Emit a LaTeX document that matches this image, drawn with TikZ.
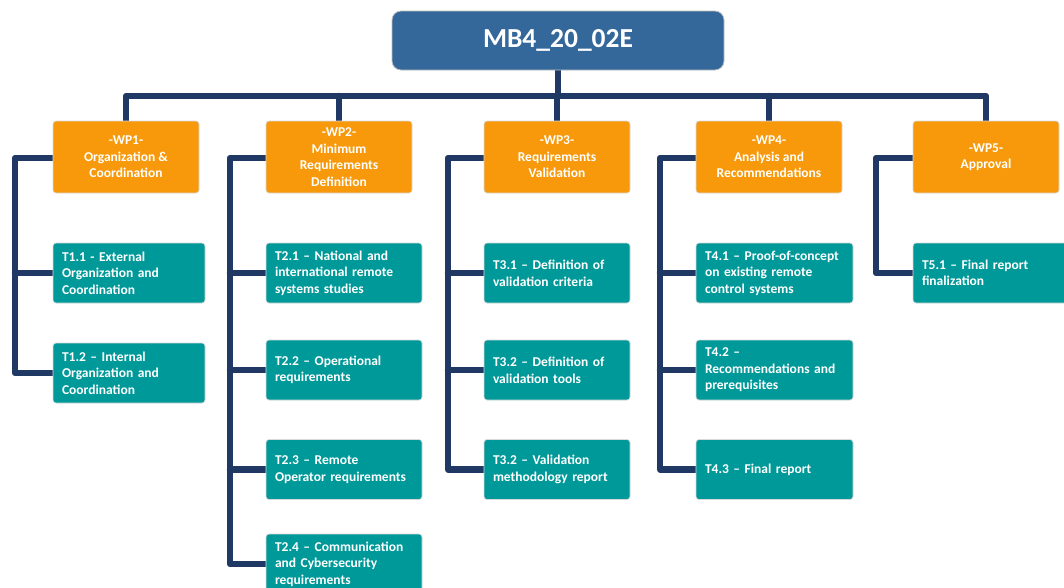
\documentclass[tikz,border=0pt]{standalone}
\usepackage{fontspec}
\setmainfont{Carlito}
\usetikzlibrary{backgrounds}
\definecolor{rootblue}{RGB}{52,103,154}
\definecolor{wporange}{RGB}{247,153,10}
\definecolor{taskteal}{RGB}{0,153,153}
\definecolor{navy}{RGB}{31,56,100}
\begin{document}
\begin{tikzpicture}[x=1pt,y=-1pt,
  rootbox/.style={fill=rootblue,draw=black!25,line width=0.8pt,rounded corners=9pt,
    minimum width=332pt,minimum height=59pt,text=white,
    font=\bfseries\fontsize{27.5}{32}\selectfont,inner sep=0pt},
  wpbox/.style={fill=wporange,draw=black!15,line width=0.7pt,rounded corners=3pt,
    minimum width=146pt,minimum height=72pt,text=white,align=center,
    font=\bfseries\fontsize{13.5}{16.6}\selectfont,inner sep=0pt},
  taskbox/.style={fill=taskteal,draw=black!15,line width=0.7pt,rounded corners=3pt,
    minimum height=60pt,text=white,align=left,inner xsep=9pt,inner ysep=0pt,
    font=\bfseries\fontsize{13.5}{16.6}\selectfont},
  tw/.style={minimum width=#1pt,text width=#1pt-18pt},
  conn/.style={draw=navy,line width=6.5pt,line join=round,line cap=round}]
\useasboundingbox (0,0) rectangle (1064,587);

\coordinate (bar) at (558,96);
\coordinate (v1) at (15,158);
\coordinate (v2) at (230,158);
\coordinate (v3) at (448,158);
\coordinate (v4) at (660,158);
\coordinate (v5) at (876,158);

% nodes
\node[rootbox] (root) at (558,40.5) {MB4\_20\_02E};

\node[wpbox] (wp1) at (126,157) {-WP1-\\Organization \&\\Coordination};
\node[wpbox] (wp2) at (339,157) {-WP2-\\Minimum\\Requirements\\Definition};
\node[wpbox] (wp3) at (557,157) {-WP3-\\Requirements\\Validation};
\node[wpbox] (wp4) at (769,157) {-WP4-\\Analysis and\\Recommendations};
\node[wpbox] (wp5) at (986,157) {-WP5-\\Approval};

\node[taskbox,tw=152] (t11) at (129,273) {T1.1 - External\\Organization and\\Coordination};
\node[taskbox,tw=152] (t12) at (129,373) {T1.2 – Internal\\Organization and\\Coordination};

\node[taskbox,tw=156] (t21) at (344,273) {T2.1 – National and\\international remote\\systems studies};
\node[taskbox,tw=156] (t22) at (344,370) {T2.2 – Operational\\requirements};
\node[taskbox,tw=156] (t23) at (344,469.5) {T2.3 – Remote\\Operator requirements};
\node[taskbox,tw=156] (t24) at (344,564) {T2.4 – Communication\\and Cybersecurity\\requirements};

\node[taskbox,tw=146] (t31) at (557,273) {T3.1 – Definition of\\validation criteria};
\node[taskbox,tw=146] (t32) at (557,370) {T3.2 – Definition of\\validation tools};
\node[taskbox,tw=146] (t33) at (557,469.5) {T3.2 – Validation\\methodology report};

\node[taskbox,tw=157] (t41) at (774.5,273) {T4.1 – Proof-of-concept\\on existing remote\\control systems};
\node[taskbox,tw=157] (t42) at (774.5,370) {T4.2 –\\Recommendations and\\prerequisites};
\node[taskbox,tw=157] (t43) at (774.5,469.5) {T4.3 – Final report};

\node[taskbox,tw=155] (t51) at (990.5,273) {T5.1 – Final report\\finalization};

% connectors
\begin{pgfonlayer}{background}
\draw[conn] (root.south) -- (bar);
\draw[conn] (wp1.north) -- (wp1.north |- bar) -- (wp5.north |- bar) -- (wp5.north);
\draw[conn] (wp2.north) -- (wp2.north |- bar);
\draw[conn] (wp3.north) -- (wp3.north |- bar);
\draw[conn] (wp4.north) -- (wp4.north |- bar);

\draw[conn] (wp1.west |- v1) -- (v1) |- (t12.west);
\draw[conn] (t11.west) -- (t11.west -| v1);

\draw[conn] (wp2.west |- v2) -- (v2) |- (t24.west);
\draw[conn] (t21.west) -- (t21.west -| v2);
\draw[conn] (t22.west) -- (t22.west -| v2);
\draw[conn] (t23.west) -- (t23.west -| v2);

\draw[conn] (wp3.west |- v3) -- (v3) |- (t33.west);
\draw[conn] (t31.west) -- (t31.west -| v3);
\draw[conn] (t32.west) -- (t32.west -| v3);

\draw[conn] (wp4.west |- v4) -- (v4) |- (t43.west);
\draw[conn] (t41.west) -- (t41.west -| v4);
\draw[conn] (t42.west) -- (t42.west -| v4);

\draw[conn] (wp5.west |- v5) -- (v5) |- (t51.west);
\end{pgfonlayer}
\end{tikzpicture}
\end{document}
